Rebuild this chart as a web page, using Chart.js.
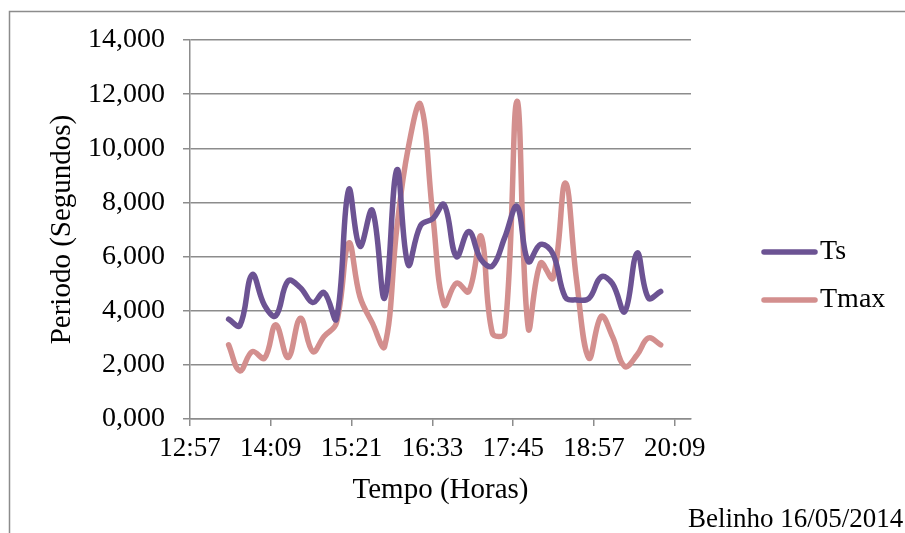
<!DOCTYPE html>
<html>
<head>
<meta charset="utf-8">
<script src="https://cdn.jsdelivr.net/npm/chart.js@4.4.1/dist/chart.umd.min.js"></script>
<style>
  html, body { margin: 0; padding: 0; background: #fff; }
  #wrap { width: 905px; height: 533px; }
</style>
</head>
<body>
<div id="wrap"><canvas id="myChart" width="905" height="533"></canvas></div>
<script>
// horas das medições
const horas = ['13:32','13:42','13:53','14:04','14:14','14:25','14:36','14:47','14:57','15:08',
  '15:19','15:29','15:40','15:51','16:02','16:12','16:23','16:34','16:44','16:55',
  '17:06','17:17','17:27','17:38','17:49','17:59','18:10','18:21','18:32','18:42',
  '18:53','19:04','19:14','19:25','19:36','19:46','19:57'];

const ts = [3690, 3450, 5330, 4200, 3810, 5100, 4850, 4300, 4670, 3700,
  8470, 6380, 7710, 4470, 9210, 5700, 7150, 7400, 7920, 6000,
  6930, 5880, 5650, 6700, 7850, 5820, 6450, 6100, 4500, 4400,
  4450, 5250, 5000, 3970, 6130, 4470, 4710];

const tmax = [2740, 1780, 2490, 2250, 3480, 2270, 3720, 2490, 3050, 3540,
  6500, 4520, 3550, 2680, 7100, 10000, 11620, 7500, 4220, 5020,
  4710, 6750, 3170, 3170, 11740, 3360, 5760, 5200, 8720, 5140,
  2250, 3790, 3050, 1940, 2370, 2990, 2740];

// eixo X em minutos desde 00:00 (0,54 a 0,85 dia, passo 0,05 dia)
const xMin = 0.54 * 1440;
const xMax = 0.85 * 1440;
const xStep = 0.05 * 1440;
const xTickLabels = ['12:57', '14:09', '15:21', '16:33', '17:45', '18:57', '20:09'];
const yTickLabels = ['0,000', '2,000', '4,000', '6,000', '8,000', '10,000', '12,000', '14,000'];

const toMin = h => { const p = h.split(':'); return (+p[0]) * 60 + (+p[1]); };
const pts = arr => arr.map((v, i) => ({ x: toMin(horas[i]), y: v }));

const roxo = '#6C5393';
const rosa = '#D38F8E';
const cinza = '#8C8C8C';
const serif = '"Liberation Serif", "Times New Roman", serif';

const extras = {
  id: 'extras',
  beforeDraw(chart) {
    const c = chart.ctx;
    c.save();
    c.fillStyle = '#fff';
    c.fillRect(0, 0, chart.width, chart.height);
    c.strokeStyle = cinza;
    c.lineWidth = 1.5;
    c.strokeRect(9.5, 11.5, 1000, 1000);
    c.restore();
  },
  afterDraw(chart) {
    const c = chart.ctx;
    c.save();
    // legenda
    chart.data.datasets.forEach((ds, i) => {
      const y = 252 + i * 48;
      c.strokeStyle = ds.borderColor;
      c.lineWidth = 5.5;
      c.lineCap = 'round';
      c.beginPath();
      c.moveTo(764, y);
      c.lineTo(815, y);
      c.stroke();
      c.fillStyle = '#000';
      c.font = '28px ' + serif;
      c.textBaseline = 'middle';
      c.textAlign = 'left';
      c.fillText(ds.label, 820, y);
    });
    c.font = '27px ' + serif;
    c.textBaseline = 'alphabetic';
    c.fillText('Belinho 16/05/2014', 688, 527);
    c.restore();
  }
};

const ctx = document.getElementById('myChart').getContext('2d');

new Chart(ctx, {
  type: 'line',
  data: {
    datasets: [
      { label: 'Ts', data: pts(ts), borderColor: roxo, backgroundColor: roxo },
      { label: 'Tmax', data: pts(tmax), borderColor: rosa, backgroundColor: rosa }
    ]
  },
  options: {
    responsive: false,
    animation: false,
    layout: { padding: { left: 0, top: 40, right: 214, bottom: 0 } },
    elements: {
      line: { borderWidth: 5.5, tension: 0.4, borderCapStyle: 'round', borderJoinStyle: 'round' },
      point: { radius: 0 }
    },
    scales: {
      x: {
        type: 'linear',
        min: xMin,
        max: xMax,
        afterFit: s => { s.height = 114; },
        afterBuildTicks: s => {
          s.ticks = xTickLabels.map((t, i) => ({ value: xMin + i * xStep }));
        },
        grid: { drawOnChartArea: false, drawTicks: true, tickLength: 7, color: cinza, lineWidth: 1.5 },
        border: { display: true, color: cinza, width: 1.5 },
        ticks: {
          autoSkip: false,
          maxRotation: 0,
          padding: 7,
          color: '#000',
          font: { family: serif, size: 27 },
          callback: (v, i) => xTickLabels[i]
        },
        title: {
          display: true,
          text: 'Tempo (Horas)',
          color: '#000',
          font: { family: serif, size: 29 },
          padding: { top: 0, bottom: 25 }
        }
      },
      y: {
        min: 0,
        max: 14000,
        afterFit: s => { s.width = 190; },
        grid: { drawTicks: true, tickLength: 7, color: cinza, lineWidth: 1.5 },
        border: { display: true, color: cinza, width: 1.5 },
        ticks: {
          stepSize: 2000,
          padding: 18,
          color: '#000',
          font: { family: serif, size: 28 },
          callback: (v, i) => yTickLabels[i]
        },
        title: {
          display: true,
          text: 'Periodo (Segundos)',
          color: '#000',
          font: { family: serif, size: 29 },
          padding: { top: 45, bottom: 0 }
        }
      }
    },
    plugins: {
      legend: { display: false },
      tooltip: { enabled: false }
    }
  },
  plugins: [extras]
});
</script>
</body>
</html>
